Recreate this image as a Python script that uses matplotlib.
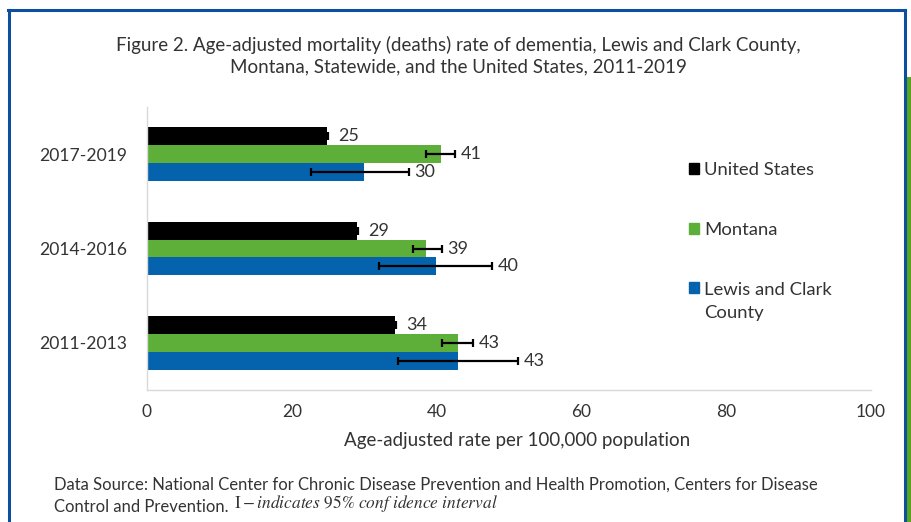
import matplotlib
matplotlib.use("Agg")
import matplotlib.pyplot as plt
import numpy as np
from matplotlib.patches import Rectangle, Patch
from matplotlib.lines import Line2D

# ---- data ----
periods = ["2011-2013", "2014-2016", "2017-2019"]
series_names = ["United States", "Montana", "Lewis and Clark\nCounty"]
us_rate = [34.2, 29.0, 24.8]
mt_rate = [43.0, 38.6, 40.6]
lc_rate = [43.0, 39.9, 30.0]
us_ci_low = [34.0, 28.8, 24.6]
us_ci_high = [34.4, 29.2, 25.0]
mt_ci_low = [40.8, 36.8, 38.6]
mt_ci_high = [45.0, 40.7, 42.5]
lc_ci_low = [34.7, 32.1, 22.6]
lc_ci_high = [51.3, 47.7, 36.2]
x_ticks = [0, 20, 40, 60, 80, 100]

FONT = "Lato"
plt.rcParams['font.family'] = [FONT, 'DejaVu Sans']
plt.rcParams['mathtext.fontset'] = 'stix'

col_us = "#000000"
col_mt = "#5EAE3A"
col_lc = "#0563AE"
txt = "#333333"

W, H = 912, 522
fig = plt.figure(figsize=(W / 100, H / 100), dpi=100)
fig.patch.set_facecolor("white")

ax = fig.add_axes([147 / W, 1 - 390 / H, (871 - 147) / W, (390 - 107) / H])

y = np.arange(len(periods))
h = 0.19
series = [
    (us_rate, us_ci_low, us_ci_high, col_us, +h, 7),
    (mt_rate, mt_ci_low, mt_ci_high, col_mt, 0.0, 4),
    (lc_rate, lc_ci_low, lc_ci_high, col_lc, -h, 4),
]
for vals, lo, hi, col, off, lpad in series:
    vals = np.array(vals); lo = np.array(lo); hi = np.array(hi)
    ax.barh(y + off, vals, height=h, color=col, zorder=2)
    ax.errorbar(vals, y + off, xerr=[vals - lo, hi - vals], fmt='none',
                ecolor='black', elinewidth=1.6, capsize=3, capthick=1.6, zorder=3)
    for v, hv, yy in zip(vals, hi, y + off):
        ax.annotate(f"{v:.0f}", xy=(hv, yy), xytext=(lpad, 0), textcoords='offset points',
                    va='center', ha='left', fontsize=13, color=txt)

ax.set_xlim(0, 100)
ax.set_ylim(-0.5, 2.5)
ax.set_xticks(x_ticks)
ax.set_xticklabels([str(t) for t in x_ticks], fontsize=12.5, color=txt)
ax.set_yticks(y)
ax.set_yticklabels(periods, fontsize=12.6, color=txt)
ax.tick_params(axis='both', length=0)
ax.tick_params(axis='y', pad=14)
ax.tick_params(axis='x', pad=10.4)
for s in ['top', 'right']:
    ax.spines[s].set_visible(False)
for s in ['left', 'bottom']:
    ax.spines[s].set_color('#d9d9d9')
    ax.spines[s].set_linewidth(1.0)
ax.set_xlabel("Age-adjusted rate per 100,000 population", fontsize=13.5, color=txt)
ax.xaxis.set_label_coords((517 - 147) / (871 - 147), -(432 - 390) / (390 - 107))

handles = [Patch(color=col_us), Patch(color=col_mt), Patch(color=col_lc)]
leg = fig.legend(handles, series_names, loc='upper left', bbox_to_anchor=(672 / W, 1 - 145 / H),
                 frameon=False, handlelength=0.55, handleheight=0.55, handletextpad=0.3,
                 labelspacing=2.4, fontsize=13.3, labelcolor=txt)
for t in leg.get_texts():
    t.set_linespacing(1.5)
# align the last square with the first line of its two-line label
lh = leg.legend_handles[2]
lh.set_y(lh.get_y() + 10)

fig.text(458 / W, 1 - 45 / H,
         "Figure 2. Age-adjusted mortality (deaths) rate of dementia, Lewis and Clark County,",
         ha='center', va='center', fontsize=13.5, color=txt)
fig.text(458 / W, 1 - 67 / H,
         "Montana, Statewide, and the United States, 2011-2019",
         ha='center', va='center', fontsize=13.5, color=txt)

fig.text(54 / W, 1 - 485 / H,
         "Data Source: National Center for Chronic Disease Prevention and Health Promotion, Centers for Disease",
         ha='left', va='center', fontsize=12.0, color=txt)
t2 = fig.text(54 / W, 1 - 512 / H, "Control and Prevention.",
              ha='left', va='baseline', fontsize=12.0, color=txt)
ax.annotate(r"$\mathrm{I} - indicates\ 95\%\ conf\ idence\ interval$",
            xy=(1, 0), xycoords=t2, xytext=(4, 0.5), textcoords='offset points',
            ha='left', va='bottom', fontsize=12.5, color=txt, annotation_clip=False)

# frame decorations
blue = "#0B4F9E"
fig.add_artist(Line2D([9.5 / W, 9.5 / W], [0, 1 - 10 / H], transform=fig.transFigure, color=blue, lw=2.2))
fig.add_artist(Line2D([8.5 / W, 905.5 / W], [1 - 10 / H, 1 - 10 / H], transform=fig.transFigure, color=blue, lw=2.2))
fig.add_artist(Line2D([905 / W, 905 / W], [0, 1 - 10 / H], transform=fig.transFigure, color=blue, lw=2.2))
fig.add_artist(Rectangle((906.5 / W, 0), (W - 906.5) / W, 1 - 77 / H, transform=fig.transFigure,
                         color="#5AA51E", lw=0))

fig.savefig("out.png", dpi=100)
